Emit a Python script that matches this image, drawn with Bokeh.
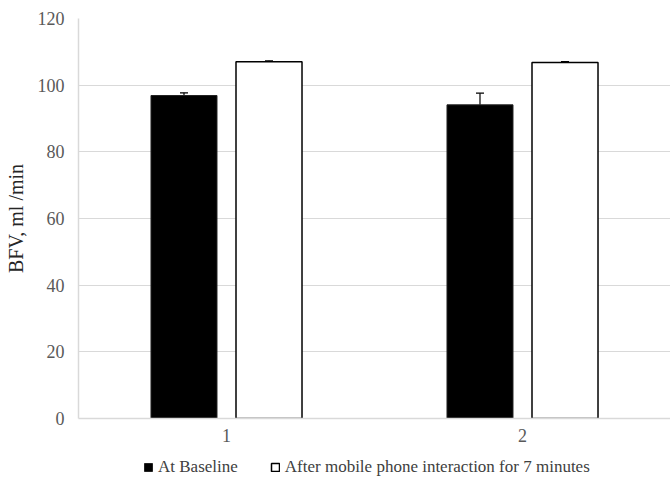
from bokeh.plotting import figure
from bokeh.models import ColumnDataSource, Whisker, Legend, LegendItem, FactorRange, Range1d
from bokeh.layouts import column
from bokeh.transform import dodge
from bokeh.embed import file_html
from bokeh.resources import INLINE

categories = ["1", "2"]
baseline = [96.9, 94.1]
baseline_err = [0.8, 3.5]
after = [107.0, 106.8]
after_err = [0.3, 0.3]
y_ticks = [0, 20, 40, 60, 80, 100, 120]
series_names = ["At Baseline", "After mobile phone interaction for 7 minutes"]

src = ColumnDataSource(dict(
    cat=categories,
    base=baseline,
    base_hi=[v + e for v, e in zip(baseline, baseline_err)],
    aft=after,
    aft_hi=[v + e for v, e in zip(after, after_err)],
))

FONT = "Liberation Serif"

p = figure(x_range=FactorRange(*categories, range_padding=0), y_range=Range1d(0, 120),
           width=670, height=449, output_backend="svg", toolbar_location=None,
           min_border_left=78, min_border_right=0, min_border_top=18, min_border_bottom=31)
p.outline_line_color = None
p.background_fill_color = "white"

off = 0.1436
w = 0.223
BASE_STYLE = dict(fill_color="black", line_color="#222222", line_width=1)
AFT_STYLE = dict(fill_color="white", line_color="black", line_width=1.5)
p.vbar(x=dodge("cat", -off, range=p.x_range), top="base", width=w, source=src, **BASE_STYLE)
p.vbar(x=dodge("cat", off, range=p.x_range), top="aft", width=w, source=src, **AFT_STYLE)

for col_lo, col_hi, d in (("base", "base_hi", -off), ("aft", "aft_hi", off)):
    wk = Whisker(base=dodge("cat", d, range=p.x_range), upper=col_hi, lower=col_lo, source=src,
                 line_color="black", line_width=1.2)
    wk.upper_head.size = 8
    wk.upper_head.line_color = "black"
    wk.upper_head.line_width = 1.2
    wk.lower_head.line_alpha = 0
    p.add_layout(wk)

p.yaxis.ticker = y_ticks
p.yaxis.axis_line_color = "#D9D9D9"
p.yaxis.axis_line_width = 1.5
p.yaxis.major_tick_line_color = None
p.yaxis.minor_tick_line_color = None
p.yaxis.major_tick_out = 0
p.yaxis.major_tick_in = 0
p.yaxis.major_label_text_font = FONT
p.yaxis.major_label_text_font_size = "18px"
p.yaxis.major_label_text_color = "#595959"
p.yaxis.major_label_standoff = 14
p.yaxis.axis_label = "BFV, ml /min"
p.yaxis.axis_label_text_font = FONT
p.yaxis.axis_label_text_font_size = "20px"
p.yaxis.axis_label_text_font_style = "normal"
p.yaxis.axis_label_text_color = "#262626"
p.yaxis.axis_label_standoff = 8

p.xaxis.axis_line_color = "#D9D9D9"
p.xaxis.axis_line_width = 1.5
p.xaxis.major_tick_line_color = None
p.xaxis.minor_tick_line_color = None
p.xaxis.major_tick_out = 0
p.xaxis.major_tick_in = 0
p.xaxis.major_label_text_font = FONT
p.xaxis.major_label_text_font_size = "18px"
p.xaxis.major_label_text_color = "#595959"
p.xaxis.major_label_standoff = 10

p.xgrid.grid_line_color = None
p.ygrid.grid_line_color = "#D9D9D9"
p.ygrid.grid_line_width = 1

# legend strip below the chart (hidden bars only feed the legend swatches)
lg = figure(width=670, height=28, output_backend="svg", toolbar_location=None,
            x_range=FactorRange(*categories, range_padding=0), y_range=Range1d(0, 120),
            x_axis_type=None, y_axis_type=None,
            min_border_left=0, min_border_right=0, min_border_top=0, min_border_bottom=0)
lg.outline_line_color = None
lg.xgrid.visible = False
lg.ygrid.visible = False
d1 = lg.vbar(x=dodge("cat", -off, range=lg.x_range), top="base", width=w, source=src,
             visible=False, **BASE_STYLE)
d2 = lg.vbar(x=dodge("cat", off, range=lg.x_range), top="aft", width=w, source=src,
             visible=False, **AFT_STYLE)
legend = Legend(items=[LegendItem(label=series_names[0], renderers=[d1]),
                       LegendItem(label=series_names[1], renderers=[d2])],
                orientation="horizontal", location=(65, 0),
                label_text_font=FONT, label_text_font_size="17px", label_text_color="#404040",
                border_line_color=None, background_fill_alpha=0,
                glyph_width=10, glyph_height=10, spacing=32, label_standoff=5,
                padding=0, margin=0)
lg.add_layout(legend)

layout = column(p, lg, spacing=0)
open("out.html", "w").write(file_html(layout, INLINE))
